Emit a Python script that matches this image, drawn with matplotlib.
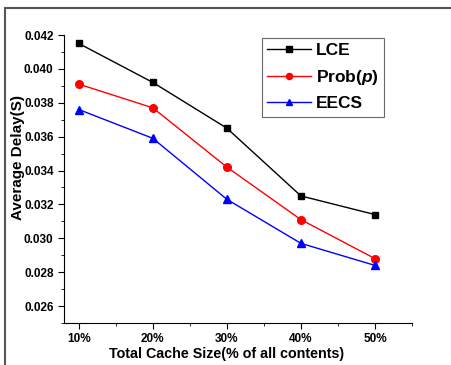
import numpy as np
import matplotlib.pyplot as plt
from matplotlib.patches import Rectangle
from matplotlib.ticker import MultipleLocator

plt.rcParams["font.family"] = ["Liberation Sans", "DejaVu Sans"]
plt.rcParams["font.weight"] = "bold"
plt.rcParams["mathtext.fontset"] = "custom"
plt.rcParams["mathtext.it"] = "Liberation Sans:italic:bold"

cache_size = [10, 20, 30, 40, 50]
tick_labels = ["10%", "20%", "30%", "40%", "50%"]
lce = [0.0415, 0.0392, 0.0365, 0.0325, 0.0314]
prob = [0.0391, 0.0377, 0.0342, 0.0311, 0.0288]
eecs = [0.0376, 0.0359, 0.0323, 0.0297, 0.0284]

W, H = 451, 365
fig = plt.figure(figsize=(W / 100, H / 100), dpi=100)

# outer frame like the screenshot border
fig.patches.append(Rectangle((5 / W, -0.1), 1.2, 1.1 - 8 / H, transform=fig.transFigure,
                             fill=False, edgecolor="#555555", linewidth=1.5))

ax = fig.add_axes([64 / W, (H - 323) / H, (412 - 64) / W, (323 - 35) / H])

ax.plot(cache_size, lce, color="black", marker="s", markersize=5, linewidth=1, label="LCE")
ax.plot(cache_size, prob, color="red", marker="o", markersize=5.5, linewidth=1, label="Prob($p$)")
ax.plot(cache_size, eecs, color="blue", marker="^", markersize=6, linewidth=1, label="EECS")

ax.set_xlim(8, 55)
ax.set_ylim(0.025, 0.042)
ax.set_xticks(cache_size)
ax.set_xticklabels(tick_labels)
ax.xaxis.set_minor_locator(MultipleLocator(5))
ax.yaxis.set_major_locator(MultipleLocator(0.002))
ax.yaxis.set_minor_locator(MultipleLocator(0.001))
ax.yaxis.set_major_formatter(plt.FormatStrFormatter("%.3f"))

for s in ["top", "right"]:
    ax.spines[s].set_visible(False)
ax.tick_params(which="major", direction="out", length=4, labelsize=8.5)
ax.tick_params(which="minor", direction="out", length=2.5)

ax.set_xlabel("Total Cache Size(% of all contents)", fontsize=10.3, fontweight="bold")
ax.set_ylabel("Average Delay(S)", fontsize=11, fontweight="bold")
ax.xaxis.set_label_coords(0.467, -0.085)
ax.yaxis.set_label_coords(-0.111, 0.575)

leg = ax.legend(loc="upper right", bbox_to_anchor=(0.92, 0.99), fontsize=12.5, fancybox=False,
                edgecolor="#444444", handlelength=2.5, borderpad=0.3, labelspacing=0.55,
                handletextpad=0.3, borderaxespad=0, markerscale=0.8)
leg.get_frame().set_linewidth(0.8)

fig.savefig("out.png", dpi=100)
